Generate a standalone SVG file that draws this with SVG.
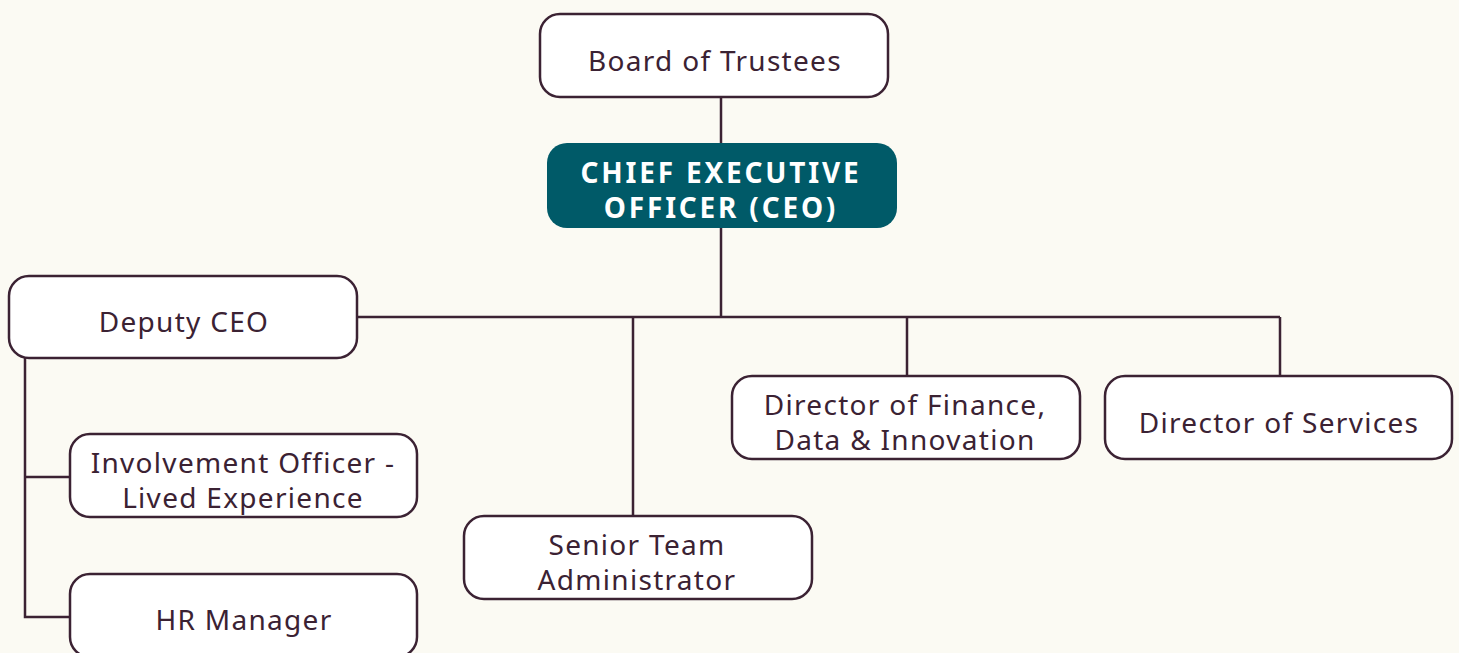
<svg xmlns="http://www.w3.org/2000/svg" width="1459" height="653" viewBox="0 0 1459 653">
<style>
.box{fill:#FFFFFF;stroke:#3B2233;stroke-width:2.5}
.ceo{fill:#005A68;stroke:none}
.t{font-family:"Noto Sans",Lato,sans-serif;font-size:28px;fill:#3B2233;text-anchor:middle;letter-spacing:1.3px}
.tb{font-family:"Noto Sans",Lato,sans-serif;font-size:28px;font-weight:bold;fill:#FFFFFF;text-anchor:middle;letter-spacing:2.8px}
.c{fill:none;stroke:#3B2233;stroke-width:2.5}
</style>
<rect width="1459" height="653" fill="#FBFAF3"/>
<g id="connectors">
<path class="c" d="M721 97V143M721 228V317M357 317H1280M633 317V516M907 317V376M1280 317V376M25 358V617H70M25 477H70"/>
</g>
<g id="board"><rect class="box" x="540" y="14" width="348" height="83" rx="20"/><text class="t" x="715" y="71">Board of Trustees</text></g>
<g id="ceo"><rect class="ceo" x="547" y="143" width="350" height="85" rx="20"/><text class="tb" x="721" y="183">CHIEF EXECUTIVE</text><text class="tb" x="721" y="218">OFFICER (CEO)</text></g>
<g id="deputy"><rect class="box" x="9" y="276" width="348" height="82" rx="20"/><text class="t" x="184" y="332">Deputy CEO</text></g>
<g id="involvement"><rect class="box" x="70" y="434" width="347" height="83" rx="20"/><text class="t" x="243" y="473">Involvement Officer -</text><text class="t" x="243" y="508">Lived Experience</text></g>
<g id="hr"><rect class="box" x="70" y="574" width="347" height="83" rx="20"/><text class="t" x="244" y="630">HR Manager</text></g>
<g id="senior"><rect class="box" x="464" y="516" width="348" height="83" rx="20"/><text class="t" x="637" y="555">Senior Team</text><text class="t" x="637" y="590">Administrator</text></g>
<g id="finance"><rect class="box" x="732" y="376" width="348" height="83" rx="20"/><text class="t" x="905" y="415">Director of Finance,</text><text class="t" x="905" y="450">Data &amp; Innovation</text></g>
<g id="services"><rect class="box" x="1105" y="376" width="347" height="83" rx="20"/><text class="t" x="1279" y="433">Director of Services</text></g>
</svg>
